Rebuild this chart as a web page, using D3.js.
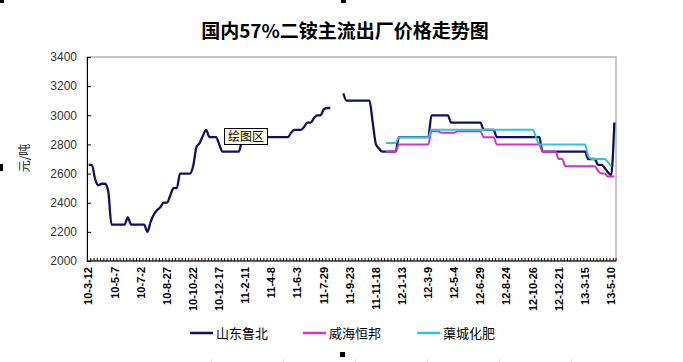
<!DOCTYPE html>
<html>
<head>
<meta charset="utf-8">
<script src="https://cdn.jsdelivr.net/npm/d3@7"></script>
<style>
body { margin:0; background:#fff; }
svg { display:block; }
</style>
</head>
<body>
<svg id="chart" width="683" height="362"></svg>
<script>
var tickLabels = ["10-3-12","10-5-7","10-7-2","10-8-27","10-10-22","10-12-17","11-2-11","11-4-8","11-6-3","11-7-29","11-9-23","11-11-18","12-1-13","12-3-9","12-5-4","12-6-29","12-8-24","12-10-26","12-12-21","13-3-15","13-5-10"];
var labelEvery = 8;
var weekCount = 162;
var yTicks = [2000,2200,2400,2600,2800,3000,3200,3400];
var seriesNames = ["山东鲁北","威海恒邦","蕖城化肥"];

// 山东鲁北, from week 0
var lubei = [2660,2660,2560,2520,2530,2530,2480,2250,2250,2250,
             2250,2250,2300,2250,2250,2250,2250,2250,2200,2270,
             2320,2350,2370,2400,2400,2450,2500,2500,2600,2600,
             2600,2600,2650,2780,2810,2860,2900,2850,2850,2850,
             2800,2750,2750,2750,2750,2750,2750,2830,2850,2850,
             2850,2850,2850,2850,2850,2850,2850,2850,2850,2850,
             2850,2850,2880,2900,2900,2900,2920,2950,2950,2980,
             3000,3000,3040,3050,3050,null,null,null,3150,3100,
             3100,3100,3100,3100,3100,3100,3100,2950,2800,2770,
             2750,2750,2750,2750,2750,2850,2850,2850,2850,2850,
             2850,2850,2850,2850,2850,3000,3000,3000,3000,3000,
             3000,2950,2950,2950,2950,2950,2950,2950,2950,2950,
             2950,2900,2900,2900,2900,2850,2850,2850,2850,2850,
             2850,2850,2850,2850,2850,2850,2850,2850,2850,2750,
             2750,2750,2750,2750,2750,2750,2750,2750,2750,2750,
             2750,2750,2750,2700,2700,2700,2660,2660,2640,2610,
             2590,2950];

// 威海恒邦, starts at week 91
var weihaiStart = 91;
var weihai = [2750,2750,2750,2750,2800,2800,2800,2800,2800,2800,
              2800,2800,2800,2800,2890,2890,2890,2880,2880,2880,
              2880,2880,2890,2890,2890,2890,2890,2890,2890,2890,
              2850,2850,2850,2850,2800,2800,2800,2800,2800,2800,
              2800,2800,2800,2800,2800,2800,2800,2800,2750,2750,
              2750,2750,2750,2700,2700,2650,2650,2650,2650,2650,
              2650,2650,2650,2650,2650,2620,2600,2600,2580,2580,
              2580];

// 蕖城化肥, starts at week 91
var quchengStart = 91;
var qucheng = [2810,2810,2810,2810,2850,2850,2850,2850,2850,2850,
               2850,2850,2850,2850,2900,2900,2900,2900,2900,2900,
               2900,2900,2900,2900,2900,2900,2900,2900,2900,2900,
               2900,2900,2900,2900,2900,2900,2900,2900,2900,2900,
               2900,2900,2900,2900,2900,2900,2850,2800,2800,2800,
               2800,2800,2800,2800,2800,2800,2800,2800,2800,2800,
               2800,2800,2720,2700,2700,2700,2700,2700,2680,2650];

var colors = ["#10105e","#cc33cc","#33c3d3"];

function toPoints(values, start) {
    return values.map((v, i) => {
        return {week: start + i, value: v};
    });
}

function drawChart() {
    var svg = d3.select("#chart");
    var plot = {left:87, top:57, right:616, bottom:261};

    var xScale = d3.scaleBand()
        .domain(d3.range(weekCount))
        .range([plot.left, plot.right]);
    var yScale = d3.scaleLinear()
        .domain([2000, 3400])
        .range([plot.bottom, plot.top]);
    var half = xScale.bandwidth() / 2;

    svg.append("rect")
        .attr("width", 683).attr("height", 362)
        .attr("fill", "#fff");

    // title
    svg.append("text")
        .attr("x", 345).attr("y", 38)
        .attr("text-anchor", "middle")
        .style("font-family", "'Noto Sans CJK SC', sans-serif")
        .style("font-weight", "bold")
        .style("font-size", "19px")
        .text("国内57%二铵主流出厂价格走势图");

    // plot frame
    svg.append("rect")
        .attr("x", plot.left).attr("y", plot.top)
        .attr("width", plot.right - plot.left)
        .attr("height", plot.bottom - plot.top)
        .attr("fill", "none")
        .attr("stroke", "#8c8c8c");

    // y axis
    var yAxis = svg.append("g")
        .attr("transform", "translate(" + plot.left + ",0)")
        .call(d3.axisLeft(yScale).tickValues(yTicks).tickFormat(d3.format("d")).tickSize(-4).tickPadding(10));
    yAxis.select(".domain").attr("stroke", "#000");
    yAxis.selectAll(".tick line").attr("stroke", "#000");
    yAxis.selectAll("text")
        .attr("fill", "#333")
        .style("font-family", "'Liberation Sans', Arial, sans-serif")
        .style("font-size", "12px");

    svg.append("text")
        .attr("transform", "translate(29,158) rotate(-90)")
        .attr("text-anchor", "middle")
        .style("font-family", "'Noto Sans CJK SC', sans-serif")
        .style("font-size", "12px")
        .attr("fill", "#222")
        .text("元/吨");

    // x axis: category boundary ticks
    svg.append("g").selectAll("line")
        .data(d3.range(weekCount + 1)).enter()
        .append("line")
        .attr("x1", (d) => { return d < weekCount ? xScale(d) + 0.5 : plot.right; })
        .attr("x2", (d) => { return d < weekCount ? xScale(d) + 0.5 : plot.right; })
        .attr("y1", plot.bottom)
        .attr("y2", plot.bottom - 3)
        .attr("stroke", "#000");
    svg.append("line")
        .attr("x1", plot.left).attr("x2", plot.right)
        .attr("y1", plot.bottom).attr("y2", plot.bottom)
        .attr("stroke", "#000");

    svg.append("g").selectAll("text")
        .data(tickLabels).enter()
        .append("text")
        .attr("transform", (d, i) => {
            return "translate(" + (xScale(i * labelEvery) + half) + "," + (plot.bottom + 6) + ") rotate(-90)";
        })
        .attr("dy", "0.35em")
        .attr("text-anchor", "end")
        .style("font-family", "'Liberation Sans', Arial, sans-serif")
        .style("font-weight", "bold")
        .style("font-size", "11px")
        .text((d) => { return d; });

    // series lines
    var line = d3.line()
        .defined((d) => { return d.value !== null; })
        .x((d) => { return xScale(d.week) + half; })
        .y((d) => { return yScale(d.value); })
        .curve(d3.curveMonotoneX);

    var series = [toPoints(lubei, 0), toPoints(weihai, weihaiStart), toPoints(qucheng, quchengStart)];
    var widths = [2.3, 2, 2];
    series.forEach((pts, i) => {
        svg.append("path")
            .datum(pts)
            .attr("d", line)
            .attr("fill", "none")
            .attr("stroke", colors[i])
            .attr("stroke-width", widths[i])
            .attr("stroke-linejoin", "round");
    });

    // "绘图区" tooltip left over from the screenshot
    var tip = svg.append("g").attr("transform", "translate(224,128)");
    tip.append("rect")
        .attr("x", 0.5).attr("y", 0.5)
        .attr("width", 43).attr("height", 16)
        .attr("fill", "#ffffe1")
        .attr("stroke", "#000");
    tip.append("text")
        .attr("x", 22).attr("y", 13)
        .attr("text-anchor", "middle")
        .style("font-family", "'Noto Sans CJK SC', sans-serif")
        .style("font-size", "12px")
        .text("绘图区");

    // legend
    var legendX = [190, 303, 417];
    var legend = svg.append("g").selectAll("g")
        .data(seriesNames).enter()
        .append("g")
        .attr("transform", (d, i) => { return "translate(" + legendX[i] + ",333)"; });
    legend.append("line")
        .attr("x1", 0).attr("x2", 23)
        .attr("stroke", (d, i) => { return colors[i]; })
        .attr("stroke-width", 2.5);
    legend.append("text")
        .attr("x", 26).attr("y", 5)
        .style("font-family", "'Noto Sans CJK SC', sans-serif")
        .style("font-size", "13px")
        .text((d) => { return d; });

    // selection handles and ruler marks from the screenshot
    var handles = [[0,0,4,3],[341,0,5,3],[0,164,3,7],[340,352,5,5]];
    svg.append("g").selectAll("rect")
        .data(handles).enter()
        .append("rect")
        .attr("x", (d) => { return d[0]; })
        .attr("y", (d) => { return d[1]; })
        .attr("width", (d) => { return d[2]; })
        .attr("height", (d) => { return d[3]; })
        .attr("fill", "#000");
    var rulerMarks = [211, 283, 355, 427, 499, 571];
    svg.append("g").selectAll("line")
        .data(rulerMarks).enter()
        .append("line")
        .attr("x1", (d) => { return d + 0.5; })
        .attr("x2", (d) => { return d + 0.5; })
        .attr("y1", 359).attr("y2", 362)
        .attr("stroke", "#ddd");
}

drawChart();
</script>
</body>
</html>
